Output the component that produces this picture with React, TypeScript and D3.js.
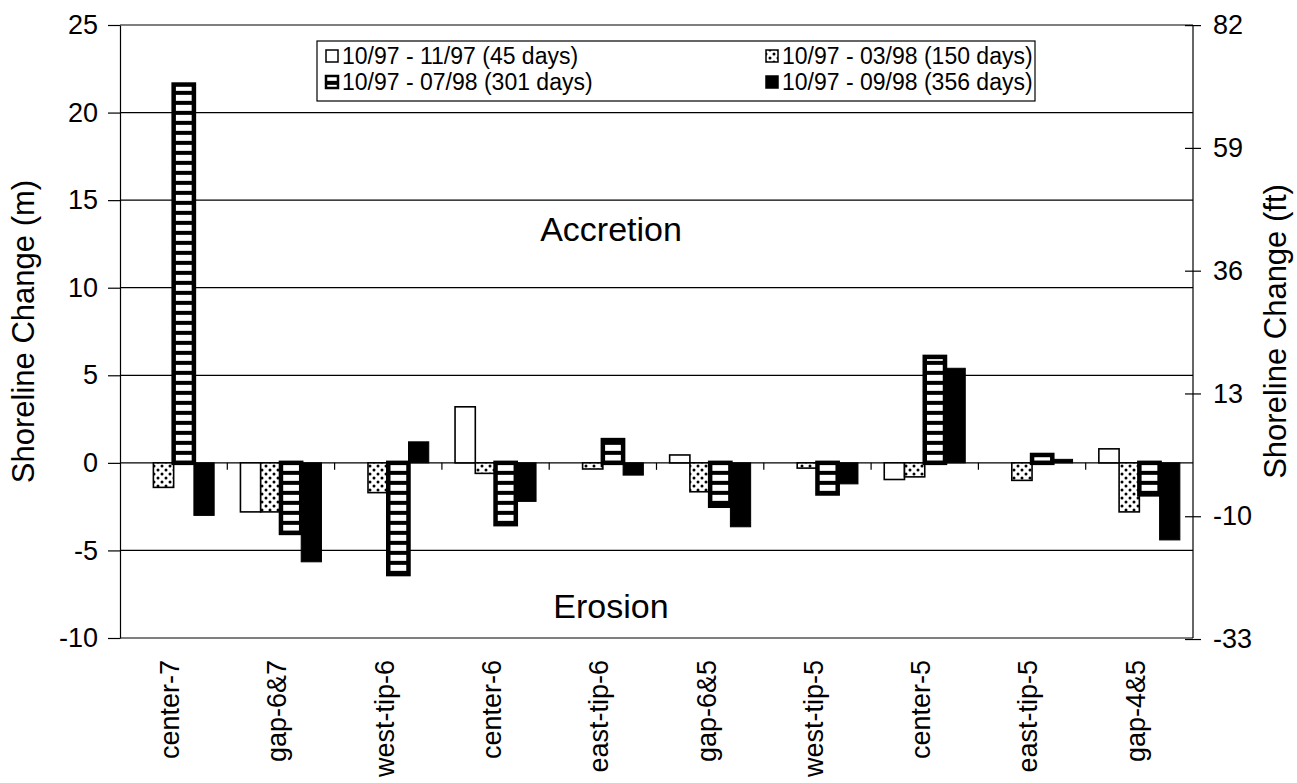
import * as d3 from "d3";
import React, { useEffect, useRef } from "react";

const categories = [
    "center-7",
    "gap-6&7",
    "west-tip-6",
    "center-6",
    "east-tip-6",
    "gap-6&5",
    "west-tip-5",
    "center-5",
    "east-tip-5",
    "gap-4&5",
];

const periods = [
    "10/97 - 11/97 (45 days)",
    "10/97 - 03/98 (150 days)",
    "10/97 - 07/98 (301 days)",
    "10/97 - 09/98 (356 days)",
];

// shoreline change in metres, one value per category
const days45 = [0, -2.8, 0, 3.2, 0, 0.45, 0, -0.95, 0, 0.8];
const days150 = [-1.4, -2.8, -1.7, -0.6, -0.35, -1.65, -0.3, -0.8, -1.0, -2.8];
const days301 = [21.6, -4.0, -6.35, -3.5, 1.3, -2.45, -1.75, 6.05, 0.45, -1.8];
const days356 = [-3.0, -5.65, 1.2, -2.2, -0.7, -3.65, -1.2, 5.4, 0.2, -4.4];

const meterTicks = [-10, -5, 0, 5, 10, 15, 20, 25];
const feetTicks = [-33, -10, 13, 36, 59, 82];

const M_TO_FT = 3.2808;
const WIDTH = 1297;
const HEIGHT = 783;
const FONT = "'Liberation Sans', Arial, Helvetica, sans-serif";

export default function App() {
    const svgRef = useRef<SVGSVGElement>(null);

    useEffect(() => {
        if (!svgRef.current) return;
        document.body.style.margin = "0";

        const svg = d3.select(svgRef.current);
        svg.selectAll("*").remove();

        const left = 120;
        const right = 1193;
        const top = 25;
        const bottom = 638;

        const series = [days45, days150, days301, days356];

        const x0 = d3
            .scaleBand<string>()
            .domain(categories)
            .range([left, right])
            .paddingInner(0.245)
            .paddingOuter(0.1225);
        const x1 = d3
            .scaleBand<number>()
            .domain(d3.range(series.length))
            .range([0, x0.bandwidth()]);
        const y = d3.scaleLinear().domain([-10, 25]).range([bottom, top]);
        const yFt = d3
            .scaleLinear()
            .domain([-10 * M_TO_FT, 25 * M_TO_FT])
            .range([bottom, top]);

        // fill patterns
        const defs = svg.append("defs");
        const dots = defs
            .append("pattern")
            .attr("id", "dots")
            .attr("patternUnits", "userSpaceOnUse")
            .attr("width", 8)
            .attr("height", 8);
        dots.append("rect").attr("width", 8).attr("height", 8).attr("fill", "#fff");
        dots.append("circle").attr("cx", 2).attr("cy", 2).attr("r", 1.5).attr("fill", "#000");
        dots.append("circle").attr("cx", 6).attr("cy", 6).attr("r", 1.5).attr("fill", "#000");

        const stripes = defs
            .append("pattern")
            .attr("id", "stripes")
            .attr("patternUnits", "userSpaceOnUse")
            .attr("width", 10)
            .attr("height", 10)
            .attr("patternTransform", `translate(0,${y(0)})`);
        stripes.append("rect").attr("width", 10).attr("height", 10).attr("fill", "#000");
        stripes.append("rect").attr("y", 2).attr("width", 10).attr("height", 6).attr("fill", "#fff");

        const styles = [
            { fill: "#fff", sw: 1.6 },
            { fill: "url(#dots)", sw: 1.6 },
            { fill: "url(#stripes)", sw: 4.5 },
            { fill: "#000", sw: 1 },
        ];

        // gridlines and frame
        svg.append("g")
            .selectAll("line")
            .data(meterTicks.filter((t) => t !== 0))
            .join("line")
            .attr("x1", left)
            .attr("x2", right)
            .attr("y1", (d) => y(d))
            .attr("y2", (d) => y(d))
            .attr("stroke", "#000")
            .attr("stroke-width", 1.2);

        // left axis
        const yAxis = svg
            .append("g")
            .attr("transform", `translate(${left},0)`)
            .call(
                d3
                    .axisLeft(y)
                    .tickValues(meterTicks)
                    .tickFormat((d) => String(d))
                    .tickSize(12)
                    .tickSizeOuter(0)
                    .tickPadding(10)
            );
        yAxis.selectAll("text").attr("font-size", 27).attr("font-family", FONT).attr("fill", "#000");
        yAxis.selectAll("line, path").attr("stroke", "#000").attr("stroke-width", 1.2);

        // right axis (feet)
        const ftAxis = svg
            .append("g")
            .attr("transform", `translate(${right},0)`)
            .call(
                d3
                    .axisRight(yFt)
                    .tickValues(feetTicks)
                    .tickFormat((d) => String(d))
                    .tickSize(8)
                    .tickSizeOuter(0)
                    .tickPadding(12)
            );
        ftAxis.select(".domain").remove();
        ftAxis.selectAll(".tick line").attr("x1", -8);
        ftAxis.selectAll("text").attr("font-size", 27).attr("font-family", FONT).attr("fill", "#000");
        ftAxis.selectAll("line").attr("stroke", "#000").attr("stroke-width", 1.2);
        svg.append("line")
            .attr("x1", right)
            .attr("x2", right)
            .attr("y1", top)
            .attr("y2", bottom)
            .attr("stroke", "#000")
            .attr("stroke-width", 1.2);

        // zero line with category separators
        svg.append("line")
            .attr("x1", left)
            .attr("x2", right)
            .attr("y1", y(0))
            .attr("y2", y(0))
            .attr("stroke", "#000")
            .attr("stroke-width", 1.2);
        const gap = (x0.step() - x0.bandwidth()) / 2;
        svg.append("g")
            .selectAll("line")
            .data(categories.slice(1))
            .join("line")
            .attr("x1", (d) => (x0(d) as number) - gap)
            .attr("x2", (d) => (x0(d) as number) - gap)
            .attr("y1", y(0))
            .attr("y2", y(0) + 7)
            .attr("stroke", "#000")
            .attr("stroke-width", 1.2);

        // bars
        series.forEach((values, s) => {
            svg.append("g")
                .selectAll("rect")
                .data(values.map((v, i) => ({ v, cat: categories[i] })).filter((d) => d.v !== 0))
                .join("rect")
                .attr("x", (d) => (x0(d.cat) as number) + (x1(s) as number))
                .attr("width", x1.bandwidth())
                .attr("y", (d) => y(Math.max(0, d.v)))
                .attr("height", (d) => Math.abs(y(d.v) - y(0)))
                .attr("fill", styles[s].fill)
                .attr("stroke", "#000")
                .attr("stroke-width", styles[s].sw);
        });

        // category labels
        svg.append("g")
            .selectAll("text")
            .data(categories)
            .join("text")
            .attr(
                "transform",
                (d) => `translate(${(x0(d) as number) + x0.bandwidth() / 2},${bottom + 22}) rotate(-90)`
            )
            .attr("text-anchor", "end")
            .attr("dy", "0.2em")
            .attr("font-size", 27)
            .attr("font-family", FONT)
            .text((d) => d);

        // axis titles
        svg.append("text")
            .attr("transform", `translate(34,${(top + bottom) / 2}) rotate(-90)`)
            .attr("text-anchor", "middle")
            .attr("font-size", 31)
            .attr("font-family", FONT)
            .text("Shoreline Change (m)");
        svg.append("text")
            .attr("transform", `translate(1286,${(top + bottom) / 2}) rotate(-90)`)
            .attr("text-anchor", "middle")
            .attr("font-size", 31)
            .attr("font-family", FONT)
            .text("Shoreline Change (ft)");

        // annotations
        svg.append("text")
            .attr("x", 611)
            .attr("y", 241)
            .attr("text-anchor", "middle")
            .attr("font-size", 34)
            .attr("font-family", FONT)
            .text("Accretion");
        svg.append("text")
            .attr("x", 611)
            .attr("y", 618)
            .attr("text-anchor", "middle")
            .attr("font-size", 34)
            .attr("font-family", FONT)
            .text("Erosion");

        // legend
        const legend = svg.append("g");
        legend
            .append("rect")
            .attr("x", 317)
            .attr("y", 41)
            .attr("width", 718)
            .attr("height", 60)
            .attr("fill", "#fff")
            .attr("stroke", "#000")
            .attr("stroke-width", 1.2);
        const colX = [326, 766];
        const rowBase = [64, 90];
        periods.forEach((label, i) => {
            const gx = colX[i % 2];
            const base = rowBase[Math.floor(i / 2)];
            legend
                .append("rect")
                .attr("x", gx)
                .attr("y", base - 14)
                .attr("width", 12)
                .attr("height", 12)
                .attr("fill", styles[i].fill)
                .attr("stroke", "#000")
                .attr("stroke-width", i === 2 ? 2.5 : 1.5);
            legend
                .append("text")
                .attr("x", gx + 16)
                .attr("y", base)
                .attr("font-size", 23)
                .attr("font-family", FONT)
                .text(label);
        });
    }, []);

    return <svg ref={svgRef} width={WIDTH} height={HEIGHT} style={{ display: "block", background: "#fff" }} />;
}
